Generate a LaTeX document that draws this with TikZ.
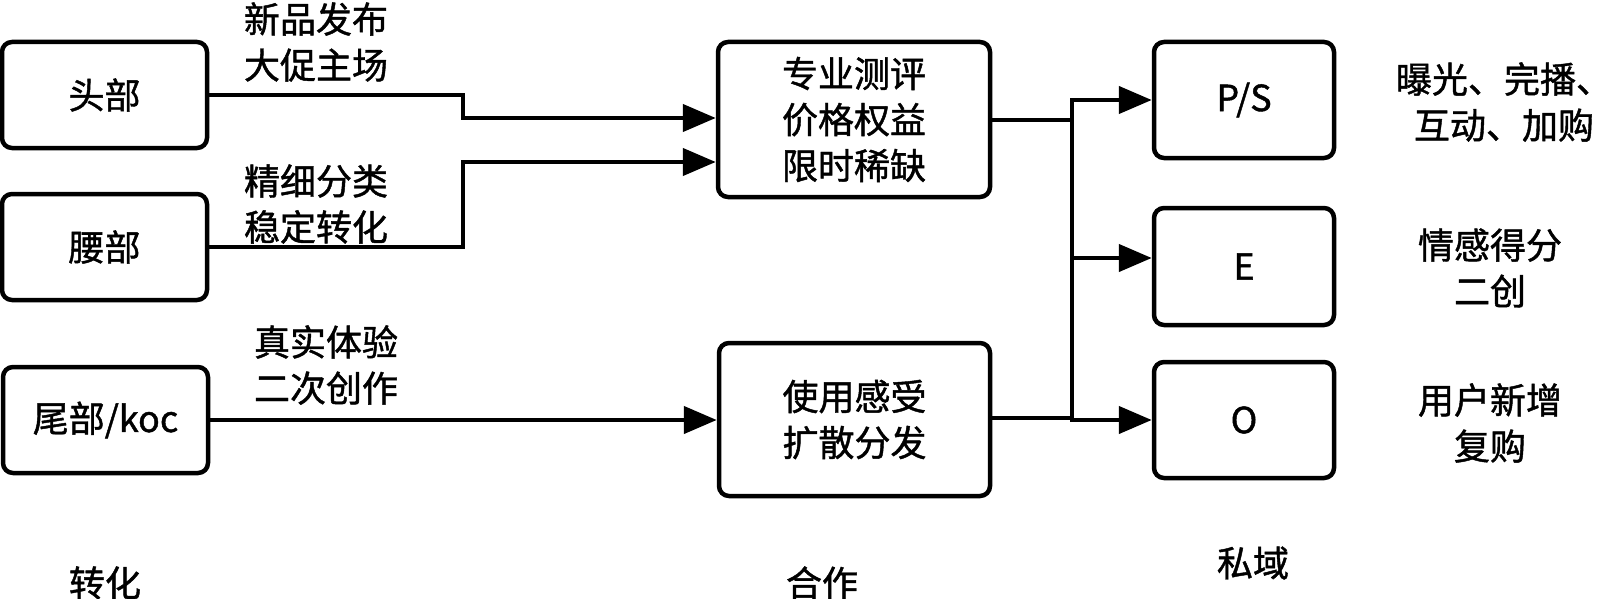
\documentclass[tikz,border=0pt]{standalone}
\usepackage{fontspec}
\setmainfont{Noto Sans CJK SC}
\newfontfamily\dfont{Noto Sans CJK SC}[FakeBold=1.2]
\usetikzlibrary{arrows.meta}
\begin{document}
\begin{tikzpicture}[x=1pt,y=-1pt,
  box/.style={draw, line width=4.5pt, rounded corners=10pt, inner sep=0pt, align=center,
    font=\dfont\fontsize{36pt}{46pt}\selectfont},
  lbl/.style={inner sep=0pt, align=center, font=\dfont\fontsize{36pt}{46pt}\selectfont},
  conn/.style={line width=4.5pt},
  arr/.style={line width=4.5pt, -{Triangle[length=33pt,width=27pt]}}]
\useasboundingbox (0,0) rectangle (1600,599);
% left column
\node[box, minimum width=205pt, minimum height=106pt] (tou) at (104.5,95) {头部};
\node[box, minimum width=205pt, minimum height=106pt] (yao) at (104.5,247) {腰部};
\node[box, minimum width=205pt, minimum height=106pt] (wei) at (105.5,420) {尾部/koc};
% middle column
\node[box, minimum width=272pt, minimum height=155pt] (zy) at (854,119.5) {专业测评\\价格权益\\限时稀缺};
\node[box, minimum width=271pt, minimum height=153pt] (sy) at (854.5,419.5) {使用感受\\扩散分发};
% right column
\node[box, minimum width=180pt, minimum height=116pt] (ps) at (1244,100) {P/S};
\node[box, minimum width=180pt, minimum height=117pt] (e) at (1244,266.5) {E};
\node[box, minimum width=180pt, minimum height=116pt] (o) at (1244,420) {O};
% labels on connectors
\node[lbl] (l1) at (316,42) {新品发布\\大促主场};
\node[lbl] (l2) at (316,204) {精细分类\\稳定转化};
\node[lbl] (l3) at (326,365) {真实体验\\二次创作};
% right labels
\node[lbl] (r1) at (1504,102) {曝光、完播、\\互动、加购};
\node[lbl] (r2) at (1490,268) {情感得分\\二创};
\node[lbl] (r3) at (1490,423) {用户新增\\复购};
% bottom labels
\node[lbl] (b1) at (105,583) {转化};
\node[lbl] (b2) at (822,583) {合作};
\node[lbl] (b3) at (1253,563) {私域};
% junction
\coordinate (jt) at (1072,100);
\coordinate (jm) at (1072,258);
\coordinate (jb) at (1072,420);
% connectors
\draw[arr] (tou.east) -- (463,95) -- (463,118) -- (zy.west |- 0,118);
\draw[arr] (yao.east) -- (463,247) -- (463,162) -- (zy.west |- 0,162);
\draw[arr] (wei.east) -- (sy.west |- wei.east);
\draw[conn] (zy.east |- 0,120) -- (1072,120);
\draw[conn] (sy.east |- 0,418) -- (1072,418);
\draw[conn, line cap=rect] (jt) -- (jb);
\draw[arr] (jt) -- (ps.west);
\draw[arr] (jm) -- (e.west |- jm);
\draw[arr] (jb) -- (o.west);
\end{tikzpicture}
\end{document}
